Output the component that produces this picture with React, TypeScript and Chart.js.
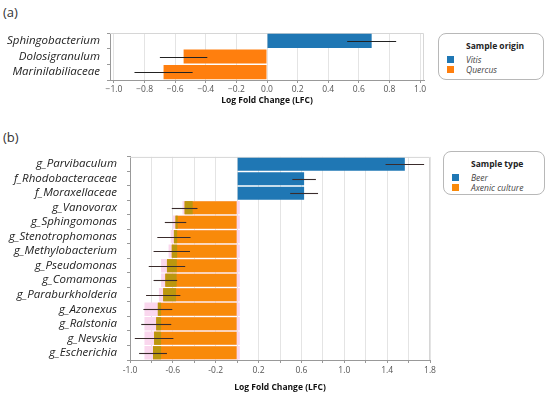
import React, { useEffect, useRef } from 'react';
import { Chart, registerables } from 'chart.js';
Chart.register(...registerables);

const FONT = "'Open Sans', 'Noto Sans', sans-serif";
const BLUE = '#1f77b4';
const ORANGE_A = '#ff7f0e';
const ORANGE_B = '#f98a0a';

// ---------- Panel (a) data ----------
const aCategories = ['Sphingobacterium', 'Dolosigranulum', 'Marinilabiliaceae'];
const aLFC = [0.684, -0.545, -0.676];
const aErr = [0.16, 0.155, 0.19];
const aOrigin = ['Vitis', 'Quercus', 'Quercus'];
const aTicks = [-1.0, -0.8, -0.6, -0.4, -0.2, 0.0, 0.2, 0.4, 0.6, 0.8, 1.0];
const aLegend = ['Vitis', 'Quercus'];

// ---------- Panel (b) data ----------
const bCategories = [
  'g_Parvibaculum', 'f_Rhodobacteraceae', 'f_Moraxellaceae', 'g_Vanovorax',
  'g_Sphingomonas', 'g_Stenotrophomonas', 'g_Methylobacterium', 'g_Pseudomonas',
  'g_Comamonas', 'g_Paraburkholderia', 'g_Azonexus', 'g_Ralstonia', 'g_Nevskia', 'g_Escherichia',
];
const bLFC = [1.565, 0.625, 0.625, -0.49, -0.575, -0.59, -0.61, -0.655, -0.67, -0.69, -0.74, -0.755, -0.775, -0.785];
const bErr = [0.18, 0.11, 0.13, 0.12, 0.1, 0.155, 0.17, 0.17, 0.11, 0.16, 0.135, 0.14, 0.18, 0.13];
const bType = ['Beer', 'Beer', 'Beer', 'Axenic culture', 'Axenic culture', 'Axenic culture', 'Axenic culture',
  'Axenic culture', 'Axenic culture', 'Axenic culture', 'Axenic culture', 'Axenic culture', 'Axenic culture', 'Axenic culture'];
// faint pink shading band behind the negative bars and olive tint on bar ends
const bShadeLeft = [null, null, null, -0.51, -0.6, -0.62, -0.64, -0.71, -0.71, -0.73, -0.865, -0.865, -0.865, -0.865];
const bShadeRight = 0.025;
const bTintEnd = [null, null, null, -0.415, -0.555, -0.56, -0.56, -0.563, -0.565, -0.57, -0.71, -0.71, -0.71, -0.71];
const bTicks = [-1.0, -0.8, -0.6, -0.4, -0.2, 0.0, 0.2, 0.4, 0.6, 0.8, 1.0, 1.2, 1.4, 1.6, 1.8];
const bTickLabels = [-1.0, -0.6, -0.2, 0.2, 0.6, 1.0, 1.4, 1.8];
const bLegend = ['Beer', 'Axenic culture'];

const colorFor = (g: string) => (g === 'Vitis' || g === 'Beer' ? BLUE : g === 'Quercus' ? ORANGE_A : ORANGE_B);

function errorPlugin(values: number[], errors: number[], color: string) {
  return {
    id: 'errbars',
    afterDatasetsDraw(chart: any) {
      const x = chart.scales.x;
      const y = chart.scales.y;
      const ctx = chart.ctx;
      ctx.save();
      ctx.strokeStyle = color;
      ctx.lineWidth = 1.1;
      values.forEach((v, i) => {
        const py = Math.round(y.getPixelForValue(i)) + 0.5;
        ctx.beginPath();
        ctx.moveTo(x.getPixelForValue(v - errors[i]), py);
        ctx.lineTo(x.getPixelForValue(v + errors[i]), py);
        ctx.stroke();
      });
      ctx.restore();
    },
  };
}

const framePlugin = {
  id: 'frame',
  beforeDatasetsDraw(chart: any) {
    const { left, top, right, bottom } = chart.chartArea;
    const ctx = chart.ctx;
    ctx.save();
    ctx.strokeStyle = '#d6d6d6';
    ctx.lineWidth = 1;
    ctx.beginPath();
    ctx.moveTo(left, top + 0.5);
    ctx.lineTo(right - 0.5, top + 0.5);
    ctx.lineTo(right - 0.5, bottom);
    ctx.stroke();
    ctx.restore();
  },
};

function useChart(ref: React.RefObject<HTMLCanvasElement>, make: () => any) {
  useEffect(() => {
    if (!ref.current) return;
    const chart = new Chart(ref.current, make());
    return () => chart.destroy();
  }, []);
}

function PanelA() {
  const ref = useRef<HTMLCanvasElement>(null);
  useChart(ref, () => ({
    type: 'bar',
    data: {
      labels: aCategories,
      datasets: [{
        data: aLFC,
        backgroundColor: aOrigin.map(colorFor),
        barPercentage: 0.9,
        categoryPercentage: 1,
      }],
    },
    options: {
      indexAxis: 'y',
      animation: false,
      responsive: false,
      layout: { padding: { top: 33, right: 8, left: 0, bottom: 0 } },
      plugins: { legend: { display: false }, tooltip: { enabled: false } },
      scales: {
        x: {
          type: 'linear', min: -1.026, max: 1.026,
          afterBuildTicks: (s: any) => { s.ticks = aTicks.map((v) => ({ value: v })); },
          afterFit: (s: any) => { s.height = 28; },
          ticks: {
            autoSkip: false, maxRotation: 0, padding: 1, color: '#555',
            font: { family: FONT, size: 8.5 },
            callback: (v: number) => (v < 0 ? '\u2212' + Math.abs(v).toFixed(1) : v.toFixed(1)),
          },
          grid: { color: '#e4e4e4', tickLength: 3, tickColor: '#999' },
          border: { color: '#999' },
          title: { display: true, text: 'Log Fold Change (LFC)', color: '#111', font: { family: FONT, size: 8.5, weight: 'bold' }, padding: { top: 0, bottom: 2 } },
        },
        y: {
          type: 'category',
          afterFit: (s: any) => { s.width = 110; },
          ticks: { autoSkip: false, color: '#222', padding: 7, font: { family: FONT, size: 11.5, style: 'italic' } },
          grid: { drawOnChartArea: false, tickLength: 3, tickColor: '#999' },
          border: { color: '#999' },
        },
      },
    },
    plugins: [framePlugin, errorPlugin(aLFC, aErr, '#222')],
  }));
  return <canvas ref={ref} width={432} height={108} style={{ position: 'absolute', left: 0, top: 0 }} />;
}

function PanelB() {
  const ref = useRef<HTMLCanvasElement>(null);
  useChart(ref, () => ({
    type: 'bar',
    data: {
      labels: bCategories,
      datasets: [
        {
          data: bShadeLeft.map((l) => (l === null ? null : [l, bShadeRight])),
          backgroundColor: '#fad7ee',
          barPercentage: 0.92,
          categoryPercentage: 1,
          grouped: false,
          order: 3,
        },
        {
          data: bLFC,
          backgroundColor: bType.map(colorFor),
          barPercentage: 0.9,
          categoryPercentage: 1,
          grouped: false,
          order: 2,
        },
        {
          data: bTintEnd.map((e, i) => (e === null ? null : [bLFC[i], e])),
          backgroundColor: '#bb970f',
          barPercentage: 0.9,
          categoryPercentage: 1,
          grouped: false,
          order: 1,
        },
      ],
    },
    options: {
      indexAxis: 'y',
      animation: false,
      responsive: false,
      layout: { padding: { top: 11, right: 10, left: 0, bottom: 0 } },
      plugins: { legend: { display: false }, tooltip: { enabled: false } },
      scales: {
        x: {
          type: 'linear', min: -1.0, max: 1.8,
          afterBuildTicks: (s: any) => { s.ticks = bTicks.map((v) => ({ value: v })); },
          afterFit: (s: any) => { s.height = 35; },
          ticks: {
            autoSkip: false, maxRotation: 0, padding: 2, color: '#555',
            font: { family: FONT, size: 8.5 },
            callback: (v: number) => (bTickLabels.some((t) => Math.abs(t - v) < 1e-6) ? v.toFixed(1) : ''),
          },
          grid: { color: '#e4e4e4', tickLength: 3, tickColor: '#999' },
          border: { color: '#999' },
          title: { display: true, text: 'Log Fold Change (LFC)', color: '#111', font: { family: FONT, size: 8.5, weight: 'bold' }, padding: { top: 0, bottom: 2 } },
        },
        y: {
          type: 'category',
          afterFit: (s: any) => { s.width = 130; },
          ticks: { autoSkip: false, color: '#222', padding: 10, font: { family: FONT, size: 11.5, style: 'italic' } },
          grid: { drawOnChartArea: false, tickLength: 3, tickColor: '#999' },
          border: { color: '#999' },
        },
      },
    },
    plugins: [framePlugin, errorPlugin(bLFC, bErr, '#3a2c2c')],
  }));
  return <canvas ref={ref} width={440} height={255} style={{ position: 'absolute', left: 0, top: 140 }} />;
}

function Legend({ title, items, left, top, width, height }: { title: string; items: string[]; left: number; top: number; width: number; height: number }) {
  return (
    <div style={{
      position: 'absolute', left, top, width, height, boxSizing: 'border-box',
      border: '1px solid #b8b8b8', borderRadius: 8, fontFamily: FONT, background: '#fff',
    }}>
      <div style={{ position: 'absolute', left: 27, top: 6, fontSize: 8.5, fontWeight: 'bold', color: '#222', whiteSpace: 'nowrap' }}>{title}</div>
      {items.map((it, i) => (
        <div key={it} style={{ position: 'absolute', left: 8, top: 20 + i * 10.5, height: 10, display: 'flex', alignItems: 'center', whiteSpace: 'nowrap' }}>
          <span style={{ display: 'inline-block', width: 7, height: 7, background: i === 0 ? BLUE : (title === 'Sample origin' ? ORANGE_A : ORANGE_B) }} />
          <span style={{ marginLeft: 12, fontSize: 8.5, fontStyle: 'italic', color: '#444' }}>{it}</span>
        </div>
      ))}
    </div>
  );
}

export default function App() {
  return (
    <div style={{ position: 'fixed', left: 0, top: 0, width: 550, height: 395, background: '#fff', overflow: 'hidden' }}>
      <div style={{ position: 'absolute', left: 3, top: 3, fontFamily: FONT, fontSize: 13, color: '#333' }}>(a)</div>
      <div style={{ position: 'absolute', left: 3, top: 128, fontFamily: FONT, fontSize: 13, color: '#333' }}>(b)</div>
      <PanelA />
      <PanelB />
      <Legend title="Sample origin" items={aLegend} left={438} top={33} width={106} height={47} />
      <Legend title="Sample type" items={bLegend} left={443} top={151} width={102} height={44} />
    </div>
  );
}
